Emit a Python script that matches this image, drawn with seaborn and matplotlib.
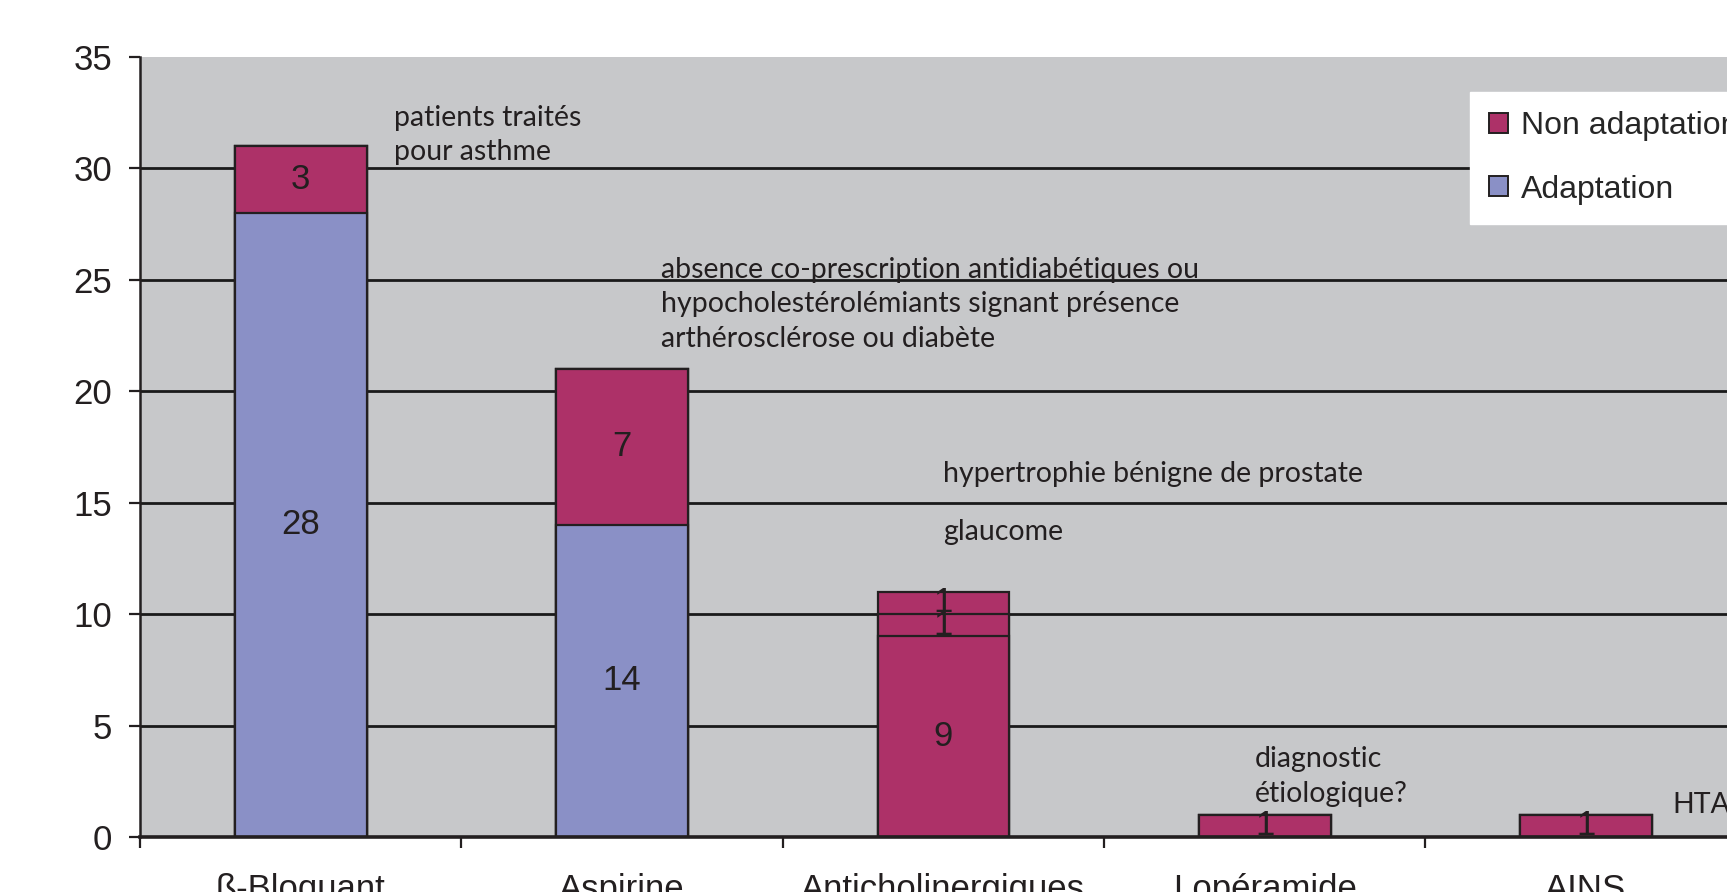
import matplotlib
matplotlib.use('Agg')
import matplotlib.pyplot as plt
import seaborn as sns
import pandas as pd
import numpy as np
from matplotlib.patches import Patch

# Data
categories = ['ß-Bloquant', 'Aspirine', 'Anticholinergiques', 'Lopéramide', 'AINS']
adaptation = [28, 14, 0, 0, 0]
non_adaptation = [3, 7, 9, 1, 1]
non_adaptation_glaucome = [0, 0, 1, 0, 0]
non_adaptation_hbp = [0, 0, 1, 0, 0]

annotations = [
    (0.29, 31.5, 'patients traités\npour asthme'),
    (1.12, 23.9, 'absence co-prescription antidiabétiques ou\nhypocholestérolémiants signant présence\narthérosclérose ou diabète'),
    (2.0, 16.3, 'hypertrophie bénigne de prostate'),
    (2.0, 13.7, 'glaucome'),
    (2.97, 2.7, 'diagnostic\nétiologique?'),
    (4.27, 1.45, 'HTA'),
]

blue = '#8a90c6'
magenta = '#ad3168'
edge = '#231f20'
bg = '#c7c8ca'

sns.set_theme(style='white')
plt.rcParams['font.family'] = ['Liberation Sans', 'DejaVu Sans']

fig = plt.figure(figsize=(17.27, 8.92), dpi=100)
ax = fig.add_axes([0.0811, 0.0617, 0.9303, 0.8744])
ax.set_facecolor(bg)

# cumulative layers, drawn tallest first
layers = [
    (np.array(adaptation) + np.array(non_adaptation) + np.array(non_adaptation_glaucome) + np.array(non_adaptation_hbp), magenta),
    (np.array(adaptation) + np.array(non_adaptation) + np.array(non_adaptation_glaucome), magenta),
    (np.array(adaptation) + np.array(non_adaptation), magenta),
    (np.array(adaptation), blue),
]
for vals, col in layers:
    df = pd.DataFrame({'cat': categories, 'val': vals})
    sns.barplot(data=df, x='cat', y='val', color=col, width=0.41, saturation=1,
                edgecolor=edge, linewidth=1.6, ax=ax, zorder=3)

# segment labels
segs = [adaptation, non_adaptation, non_adaptation_glaucome, non_adaptation_hbp]
bottoms = np.zeros(len(categories))
for s in segs:
    for i, v in enumerate(s):
        if v > 0:
            ax.text(i, bottoms[i] + v / 2, str(v), ha='center', va='center',
                    fontsize=25, color='#231f20', zorder=5)
    bottoms += np.array(s)

for x, y, t in annotations:
    ax.text(x, y, t, ha='left', va='center', fontsize=20.5, family=['Lato', 'DejaVu Sans'],
            color='#231f20', linespacing=1.42, zorder=5)

ax.set_xlim(-0.5, 4.5)
ax.set_ylim(0, 35)
ax.set_yticks(range(0, 36, 5))
for y in range(5, 35, 5):
    ax.axhline(y, color='#1a1a1a', lw=2.0, zorder=1)

ax.set_xticks(range(len(categories)))
ax.set_xticklabels(categories)
ax.set_xticks(np.arange(-0.5, 5, 1), minor=True)
ax.tick_params(axis='x', which='major', length=0, pad=26, labelsize=25, colors='#231f20')
ax.tick_params(axis='x', which='minor', length=8, width=1.6, direction='out', bottom=True, color='#231f20')
ax.tick_params(axis='y', length=8, width=1.6, direction='out', left=True, pad=12, labelsize=25, colors='#231f20')
ax.set_xlabel('')
ax.set_ylabel('')

for side in ['top', 'right']:
    ax.spines[side].set_visible(False)
ax.spines['left'].set_color('#231f20')
ax.spines['left'].set_linewidth(1.8)
ax.spines['bottom'].set_color('#231f20')
ax.spines['bottom'].set_linewidth(2.6)
ax.spines['left'].set_zorder(6)
ax.spines['bottom'].set_zorder(6)

handles = [Patch(facecolor=magenta, edgecolor=edge, linewidth=1.4, label='Non adaptation'),
           Patch(facecolor=blue, edgecolor=edge, linewidth=1.4, label='Adaptation')]
leg = fig.legend(handles=handles, loc='upper left', bbox_to_anchor=(0.851, 0.897),
                 frameon=True, fancybox=False, framealpha=1, fontsize=23, handlelength=0.6,
                 handleheight=0.6, handletextpad=0.4, labelspacing=1.05, borderpad=0.6,
                 borderaxespad=0)
leg.get_frame().set_facecolor('white')
leg.get_frame().set_edgecolor('white')

fig.savefig('out.png', dpi=100)
